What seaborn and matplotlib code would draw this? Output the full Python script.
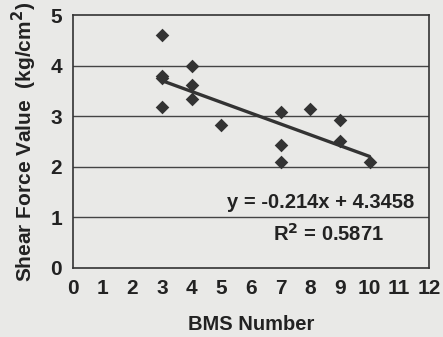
import numpy as np
import pandas as pd
import seaborn as sns
import matplotlib
matplotlib.use("Agg")
import matplotlib.pyplot as plt

# BMS number vs shear force
bms = [3, 3, 3, 3, 4, 4, 4, 5, 7, 7, 7, 8, 9, 9, 10]
shear = [4.6, 3.8, 3.76, 3.18, 4.0, 3.62, 3.34, 2.82, 3.09, 2.44, 2.09, 3.14, 2.93, 2.51, 2.09]

slope = -0.214
intercept = 4.3458
r2 = 0.5871

df = pd.DataFrame({"BMS": bms, "Shear": shear})

sns.set_style("white")
plt.rcParams['font.family'] = ['Liberation Sans', 'DejaVu Sans']
plt.rcParams['font.weight'] = 'bold'

bg = '#e9e9e7'
ink = '#333333'

fig = plt.figure(figsize=(4.43, 3.37), dpi=100, facecolor=bg)
ax = fig.add_axes([0.165, 0.205, 0.803, 0.75])
ax.set_facecolor(bg)

sns.scatterplot(data=df, x="BMS", y="Shear", marker="D", s=48, color=ink,
                edgecolor=ink, linewidth=0, ax=ax, zorder=3)

xs = np.array([min(bms), max(bms)])
ax.plot(xs, slope * xs + intercept, color=ink, lw=2.4, zorder=2)

for g in [1, 2, 3, 4]:
    ax.axhline(g, color='#444444', lw=1.0, zorder=1)

ax.set_xlim(0, 12)
ax.set_ylim(0, 5)
ax.set_xticks(range(0, 13))
ax.set_yticks(range(0, 6))
ax.tick_params(axis='both', labelsize=15, colors='#222222', length=0, pad=8)
ax.tick_params(axis='x', direction='in', length=3, width=0.8, color='#555555')
for lab in ax.get_xticklabels() + ax.get_yticklabels():
    lab.set_fontweight('bold')

for sp in ax.spines.values():
    sp.set_color('#333333')
    sp.set_linewidth(1.2)

ax.set_xlabel("BMS Number", fontsize=14.5, fontweight='bold', color='#222222', labelpad=12)
ax.set_ylabel("Shear Force Value  (kg/cm$^2$)", fontsize=15, fontweight='bold',
              color='#222222', labelpad=8)

ax.text(8.35, 1.3, "y = -0.214x + 4.3458", fontsize=14.5, fontweight='bold',
        color='#222222', ha='center', va='center')
ax.text(8.6, 0.68, "R$^2$ = 0.5871", fontsize=14.5, fontweight='bold',
        color='#222222', ha='center', va='center')

fig.savefig("out.png", dpi=100, facecolor=bg)
